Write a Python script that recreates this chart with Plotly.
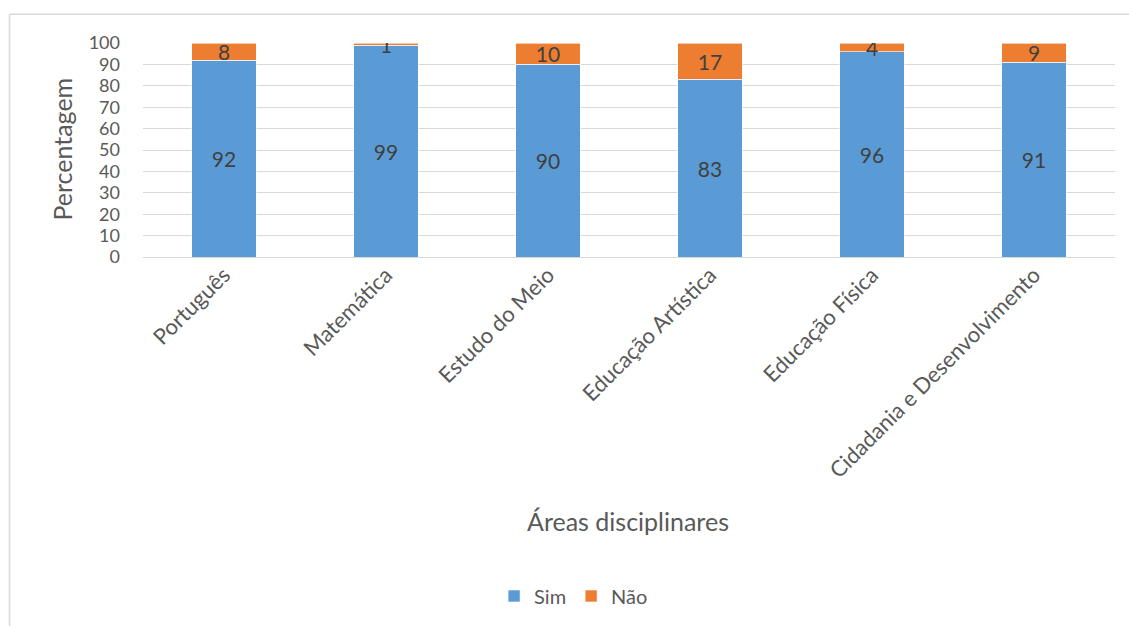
import plotly.graph_objects as go

# Survey results by subject area (percent)
areas = ["Português", "Matemática", "Estudo do Meio", "Educação Artística",
         "Educação Física", "Cidadania e Desenvolvimento"]
sim = [92, 99, 90, 83, 96, 91]
nao = [8, 1, 10, 17, 4, 9]
y_ticks = list(range(0, 101, 10))

BLUE = "#5B9BD5"
ORANGE = "#ED7D31"
TXT = "#595959"
LBL = "#404040"
GRID = "#D9D9D9"
FONT = "Lato"

fig = go.Figure()
for name, vals, col in [("Sim", sim, BLUE), ("Não", nao, ORANGE)]:
    fig.add_trace(go.Bar(
        x=areas, y=vals, name=name,
        marker=dict(color=col, line=dict(color="white", width=0.6)),
        text=[str(v) for v in vals],
        textposition="inside", insidetextanchor="middle",
        textangle=0, constraintext="none",
        textfont=dict(family=FONT, size=21, color=LBL),
        width=0.4,
    ))

fig.update_layout(
    barmode="stack",
    width=1129, height=626,
    margin=dict(l=143, r=14, t=43, b=368),
    paper_bgcolor="white", plot_bgcolor="white",
    font=dict(family=FONT, color=TXT),
    showlegend=True,
    legend=dict(orientation="h", x=0.443, xanchor="center", y=-1.572, yanchor="middle",
                font=dict(family=FONT, size=20, color=TXT), traceorder="normal",
                itemwidth=30),
    xaxis=dict(range=[-0.5, 5.5], tickangle=-45, showgrid=False, showline=False,
               ticks="", tickfont=dict(family=FONT, size=22, color=TXT)),
    yaxis=dict(range=[0, 100], tickvals=y_ticks, showgrid=True, gridcolor=GRID,
               gridwidth=1, zeroline=True, zerolinecolor=GRID, zerolinewidth=1,
               showline=False, ticks="", ticklabelstandoff=22,
               tickfont=dict(family=FONT, size=18, color=TXT)),
    annotations=[
        dict(text="Percentagem", xref="paper", yref="paper", x=-0.0833, y=0.502,
             textangle=-90, showarrow=False, xanchor="center", yanchor="middle",
             font=dict(family=FONT, size=25, color=TXT)),
        dict(text="Áreas disciplinares", xref="paper", yref="paper", x=0.499, y=-1.2326,
             showarrow=False, xanchor="center", yanchor="middle",
             font=dict(family=FONT, size=25, color=TXT)),
    ],
    shapes=[
        dict(type="line", xref="paper", yref="paper", x0=-0.1373, x1=-0.1373,
             y0=-2.0, y1=1.1349, line=dict(color=GRID, width=1.5)),
        dict(type="line", xref="paper", yref="paper", x0=-0.1373, x1=1.2,
             y0=1.1349, y1=1.1349, line=dict(color=GRID, width=1.5)),
    ],
)

fig.write_html("out.html")
